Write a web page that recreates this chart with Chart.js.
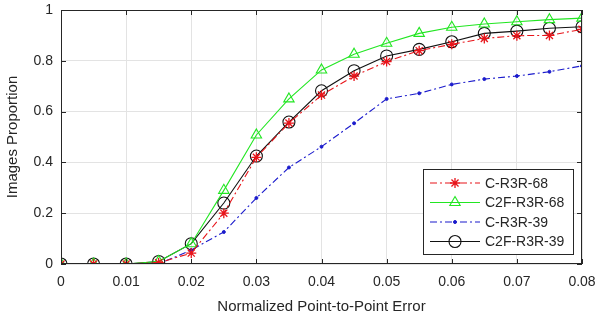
<!DOCTYPE html>
<html>
<head>
<meta charset="UTF-8">
<script src="https://cdn.jsdelivr.net/npm/chart.js"></script>
<style>
  html, body { margin: 0; padding: 0; background: #fff; }
  #wrap { width: 597px; height: 320px; }
</style>
</head>
<body>
<div id="wrap"><canvas id="c" width="597" height="320"></canvas></div>
<script>
const errors = [0, 0.005, 0.01, 0.015, 0.02, 0.025, 0.03, 0.035, 0.04, 0.045, 0.05, 0.055, 0.06, 0.065, 0.07, 0.075, 0.08];
const cR3R68   = [0, 0, 0, 0.005, 0.043, 0.20, 0.42, 0.555, 0.665, 0.74, 0.797, 0.84, 0.865, 0.888, 0.899, 0.90, 0.924];
const c2fR3R68 = [0, 0, 0, 0.01, 0.08, 0.29, 0.508, 0.65, 0.764, 0.826, 0.869, 0.908, 0.932, 0.945, 0.954, 0.962, 0.968];
const cR3R39   = [0, 0, 0, 0.0, 0.055, 0.126, 0.26, 0.38, 0.462, 0.554, 0.65, 0.672, 0.707, 0.728, 0.74, 0.757, 0.78];
const c2fR3R39 = [0, 0, 0, 0.01, 0.08, 0.24, 0.425, 0.559, 0.682, 0.761, 0.819, 0.845, 0.875, 0.908, 0.917, 0.928, 0.934];
const xTicks = [0, 0.01, 0.02, 0.03, 0.04, 0.05, 0.06, 0.07, 0.08];
const yTicks = [0, 0.2, 0.4, 0.6, 0.8, 1];

const txt = '#262626';
const fontFam = '"Liberation Sans", Arial, sans-serif';

function pts(arr) { return errors.map((x, i) => ({ x: x, y: arr[i] })); }

const series = [
  { label: 'C-R3R-68', data: pts(cR3R68), borderColor: '#e8141a', pointStyle: 'star', pointRadius: 5, borderDash: [7, 3, 2, 3], pointBorderWidth: 1.3 },
  { label: 'C2F-R3R-68', data: pts(c2fR3R68), borderColor: '#22e622', pointStyle: 'triangle', pointRadius: 6, borderDash: [], pointBorderWidth: 1.1 },
  { label: 'C-R3R-39', data: pts(cR3R39), borderColor: '#1b1bcc', pointStyle: 'circle', pointRadius: 1.5, borderDash: [7, 3, 2, 3], pointBackgroundColor: '#1b1bcc', pointBorderWidth: 1 },
  { label: 'C2F-R3R-39', data: pts(c2fR3R39), borderColor: '#111111', pointStyle: 'circle', pointRadius: 6, borderDash: [], pointBorderWidth: 1.1 }
];

series.forEach(s => {
  s.borderWidth = 1.1;
  s.pointBorderColor = s.borderColor;
  if (!s.pointBackgroundColor) s.pointBackgroundColor = 'rgba(0,0,0,0)';
  s.fill = false;
  s.tension = 0;
});

// box, inward ticks and the legend inside the plot
const boxPlugin = {
  id: 'box',
  afterDraw(chart) {
    const ctx = chart.ctx, a = chart.chartArea;
    const xs = chart.scales.x, ys = chart.scales.y;
    ctx.save();
    ctx.strokeStyle = txt;
    ctx.lineWidth = 1;
    ctx.strokeRect(a.left + 0.5, a.top + 0.5, a.right - a.left - 1, a.bottom - a.top - 1);
    ctx.beginPath();
    xTicks.forEach(v => {
      const p = Math.round(xs.getPixelForValue(v)) + 0.5;
      ctx.moveTo(p, a.bottom); ctx.lineTo(p, a.bottom - 5);
      ctx.moveTo(p, a.top); ctx.lineTo(p, a.top + 5);
    });
    yTicks.forEach(v => {
      const p = Math.round(ys.getPixelForValue(v)) + 0.5;
      ctx.moveTo(a.left, p); ctx.lineTo(a.left + 5, p);
      ctx.moveTo(a.right, p); ctx.lineTo(a.right - 5, p);
    });
    ctx.stroke();

    // legend
    const lx = 423, ly = 169, lw = 150, lh = 85;
    ctx.fillStyle = '#fff';
    ctx.fillRect(lx, ly, lw, lh);
    ctx.strokeStyle = '#262626';
    ctx.strokeRect(lx + 0.5, ly + 0.5, lw, lh);
    ctx.font = '14px ' + fontFam;
    ctx.textBaseline = 'middle';
    chart.data.datasets.forEach((d, i) => {
      const y = ly + 14 + i * 19.5;
      ctx.strokeStyle = d.borderColor;
      ctx.lineWidth = d.borderWidth;
      ctx.setLineDash(d.borderDash);
      ctx.beginPath();
      ctx.moveTo(lx + 7, y); ctx.lineTo(lx + 57, y);
      ctx.stroke();
      ctx.setLineDash([]);
      ctx.fillStyle = d.pointBackgroundColor;
      ctx.strokeStyle = d.borderColor;
      ctx.lineWidth = d.pointBorderWidth;
      Chart.helpers.drawPoint(ctx, {
        pointStyle: d.pointStyle, radius: d.pointRadius, borderWidth: d.pointBorderWidth, rotation: 0
      }, lx + 32, y);
      ctx.fillStyle = txt;
      ctx.fillText(d.label, lx + 62, y + 1);
    });
    ctx.restore();
  }
};

new Chart(document.getElementById('c'), {
  type: 'line',
  data: { datasets: series },
  options: {
    responsive: false,
    animation: false,
    layout: { padding: { top: 10, right: 15, left: 0, bottom: 0 } },
    plugins: { legend: { display: false }, tooltip: { enabled: false } },
    scales: {
      x: {
        type: 'linear', min: 0, max: 0.08,
        afterBuildTicks(s) { s.ticks = xTicks.map(v => ({ value: v })); },
        afterFit(s) { s.height = 56; s.paddingLeft = 0; s.paddingRight = 0; },
        grid: { color: '#e3e3e3', drawTicks: false },
        border: { display: false },
        ticks: {
          color: txt, font: { family: fontFam, size: 14 }, padding: 10,
          callback: v => String(+v.toFixed(3))
        },
        title: { display: true, text: 'Normalized Point-to-Point Error', color: txt, font: { family: fontFam, size: 15 }, padding: { top: 4 } }
      },
      y: {
        min: 0, max: 1,
        afterBuildTicks(s) { s.ticks = yTicks.map(v => ({ value: v })); },
        afterFit(s) { s.width = 61; s.paddingTop = 0; s.paddingBottom = 0; },
        grid: { color: '#e3e3e3', drawTicks: false },
        border: { display: false },
        ticks: {
          color: txt, font: { family: fontFam, size: 14 }, padding: 8,
          callback: v => String(+v.toFixed(1))
        },
        title: { display: true, text: 'Images Proportion', color: txt, font: { family: fontFam, size: 15 }, padding: { bottom: 4 } }
      }
    }
  },
  plugins: [boxPlugin]
});
</script>
</body>
</html>
